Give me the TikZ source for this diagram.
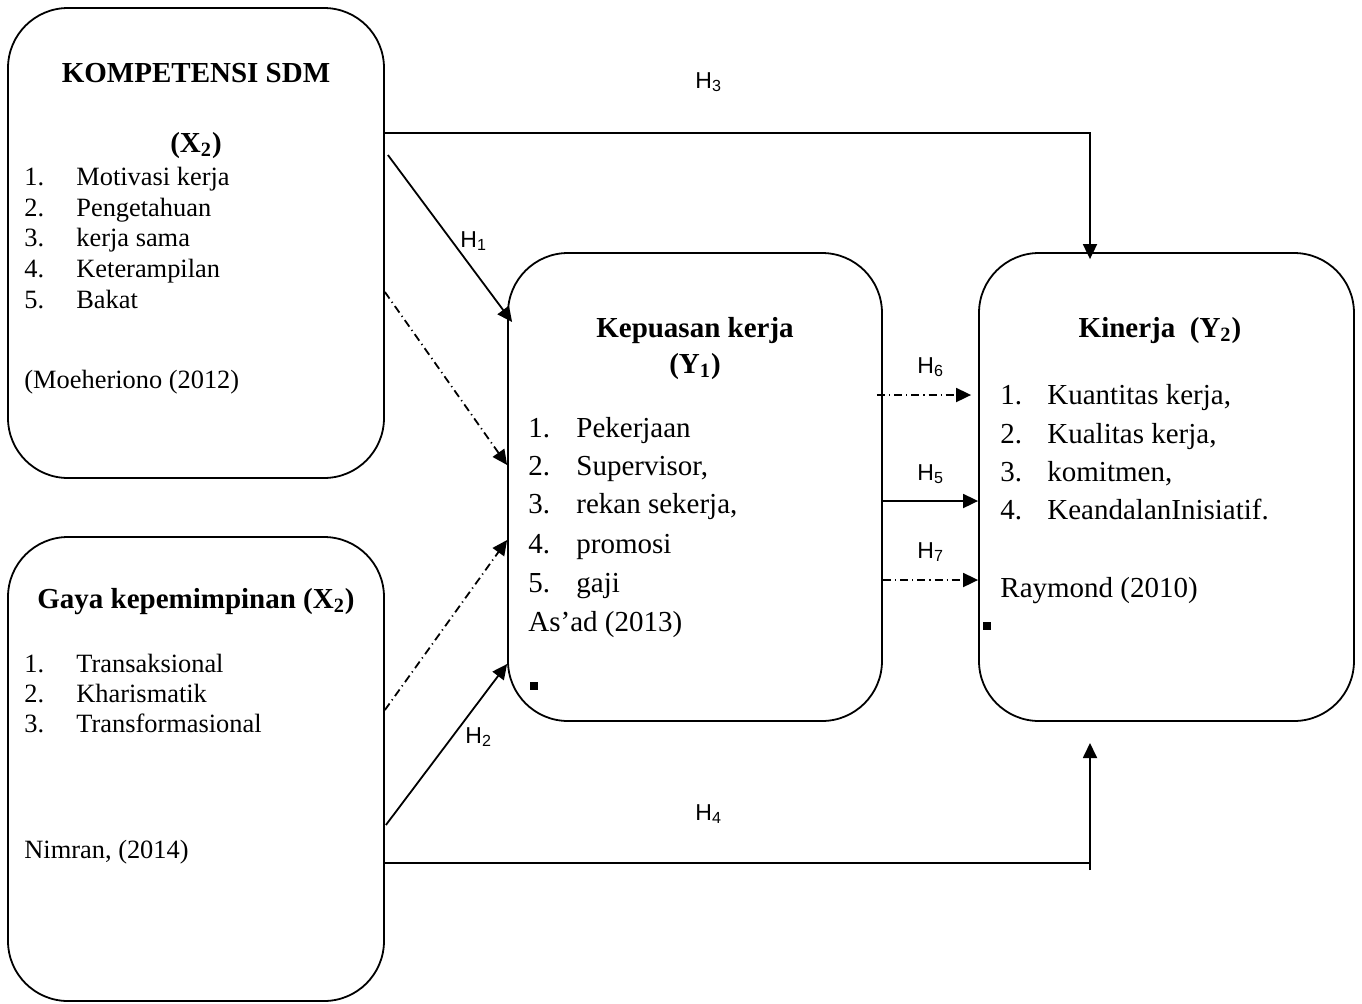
\documentclass[tikz,border=0pt]{standalone}
\usepackage{fontspec}
\setmainfont{Liberation Serif}
\newfontfamily\arialf{Liberation Sans}
\usetikzlibrary{arrows.meta,calc}
\newcommand\numlab[2]{\makebox[#1][l]{#2}}
\begin{document}
\begin{tikzpicture}[x=0.5pt,y=-0.5pt,
  box/.style={draw,line width=0.9pt,rounded corners=30pt,inner sep=0pt},
  txtA/.style={anchor=base west,inner sep=0pt,font=\fontsize{13.2}{15}\selectfont},
  txtC/.style={anchor=base west,inner sep=0pt,font=\fontsize{14.5}{17}\selectfont},
  ttl/.style={anchor=base,inner sep=0pt,font=\fontsize{14.5}{17}\selectfont\bfseries},
  hl/.style={anchor=base west,inner sep=0pt,font=\fontsize{11.5}{14}\selectfont\arialf},
  conn/.style={line width=0.9pt},
  arr/.style={conn,-{Triangle[length=7.5pt,width=7pt]}},
  dd/.style={dash pattern=on 4pt off 2pt on 0.6pt off 2pt},
  sq/.style={fill,inner sep=0pt,minimum size=4pt}
]
\useasboundingbox (0,0) rectangle (1362,1003);
% boxes
\node[box,minimum width=188pt,minimum height=235pt] (A) at (196,243) {};
\node[box,minimum width=188pt,minimum height=232pt] (B) at (196,769) {};
\node[box,minimum width=187pt,minimum height=234pt] (C) at (695,487) {};
\node[box,minimum width=187.5pt,minimum height=234pt] (D) at (1166.5,487) {};
% box A text
\node[ttl] (a0) at (196,82) {KOMPETENSI SDM};
\node[ttl] (a1) at (196,152) {(X\textsubscript{2})};
\node[txtA] (a2) at (24,185) {\numlab{26pt}{1.}Motivasi kerja};
\node[txtA] (a3) at (24,216) {\numlab{26pt}{2.}Pengetahuan};
\node[txtA] (a4) at (24,246) {\numlab{26pt}{3.}kerja sama};
\node[txtA] (a5) at (24,277) {\numlab{26pt}{4.}Keterampilan};
\node[txtA] (a6) at (24,308) {\numlab{26pt}{5.}Bakat};
\node[txtA] (a7) at (24,388) {(Moeheriono (2012)};
% box B text
\node[ttl] (b0) at (196,608) {Gaya kepemimpinan (X\textsubscript{2})};
\node[txtA] (b1) at (24,672) {\numlab{26pt}{1.}Transaksional};
\node[txtA] (b2) at (24,702) {\numlab{26pt}{2.}Kharismatik};
\node[txtA] (b3) at (24,732) {\numlab{26pt}{3.}Transformasional};
\node[txtA] (b4) at (24,858) {Nimran, (2014)};
% box C text
\node[ttl] (c0) at (695,337) {Kepuasan kerja};
\node[ttl] (c1) at (695,373) {(Y\textsubscript{1})};
\node[txtC] (c2) at (528,437) {\numlab{24pt}{1.}Pekerjaan};
\node[txtC] (c3) at (528,475) {\numlab{24pt}{2.}Supervisor,};
\node[txtC] (c4) at (528,513) {\numlab{24pt}{3.}rekan sekerja,};
\node[txtC] (c5) at (528,553) {\numlab{24pt}{4.}promosi};
\node[txtC] (c6) at (528,592) {\numlab{24pt}{5.}gaji};
\node[txtC] (c7) at (528,631) {As’ad (2013)};
\node[sq] (c8) at (534,686) {};
% box D text
\node[ttl] (d0) at (1160,337) {Kinerja\ \ (Y\textsubscript{2})};
\node[txtC] (d1) at (1000,404) {\numlab{23.5pt}{1.}Kuantitas kerja,};
\node[txtC] (d2) at (1000,443) {\numlab{23.5pt}{2.}Kualitas kerja,};
\node[txtC] (d3) at (1000,481) {\numlab{23.5pt}{3.}komitmen,};
\node[txtC] (d4) at (1000,519) {\numlab{23.5pt}{4.}KeandalanInisiatif.};
\node[txtC] (d5) at (1000,597) {Raymond (2010)};
\node[sq] (d6) at (987,626) {};
% connectors
\draw[arr] (A.east |- 0,133) -| ($(D.north -| 1090,0)+(0,7)$);
\draw[arr] ($(A.east |- 0,155)+(3,0)$) -- ($(C.west |- 0,322)+(5,0)$);
\draw[arr,dd] (A.east |- 0,292) -- (C.west |- 0,465);
\draw[arr,dd] (B.east |- 0,710) -- (C.west |- 0,540);
\draw[arr] ($(B.east |- 0,825)+(1,0)$) -- (C.west |- 0,664);
\coordinate (h4tip) at (1090,743);
\coordinate (h4foot) at (1090,870);
\draw[conn] (B.east |- 0,863) -- (h4tip |- 0,863);
\draw[arr] (h4foot) -- (h4tip);
\draw[arr,dd] ($(C.east |- 0,395)+(-6,0)$) -- ($(D.west |- 0,395)+(-7,0)$);
\draw[arr] (C.east |- 0,501) -- (D.west |- 0,501);
\draw[arr,dd] (C.east |- 0,580) -- (D.west |- 0,580);
% labels
\node[hl] (h3) at (695,88) {H\textsubscript{3}};
\node[hl] (h1) at (460,247) {H\textsubscript{1}};
\node[hl] (h2) at (465,743) {H\textsubscript{2}};
\node[hl] (h4) at (695,820) {H\textsubscript{4}};
\node[hl] (h6) at (917,373) {H\textsubscript{6}};
\node[hl] (h5) at (917,480) {H\textsubscript{5}};
\node[hl] (h7) at (917,558) {H\textsubscript{7}};
\end{tikzpicture}
\end{document}
